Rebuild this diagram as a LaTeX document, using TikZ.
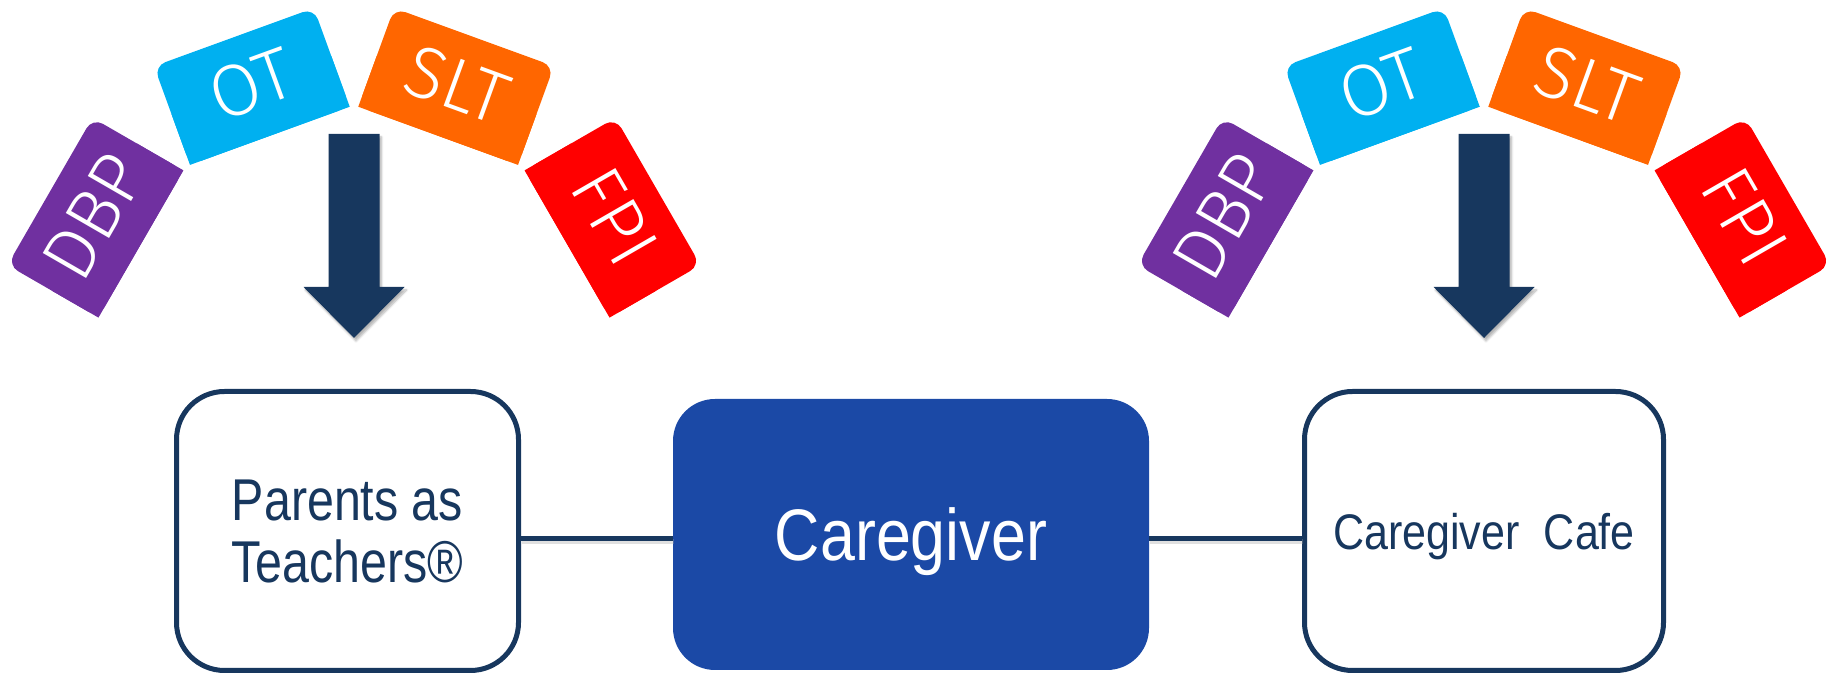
\documentclass[tikz,border=0pt]{standalone}
\usepackage{fontspec}
\setmainfont{Liberation Sans}
\newfontfamily\patfont[FakeStretch=0.82]{Liberation Sans}
\newfontfamily\cgfont[FakeStretch=0.86]{Liberation Sans}
\newfontfamily\tilefont{Fira Sans Light}
\usetikzlibrary{calc,shadows.blur}
\definecolor{navy}{HTML}{17375E}
\definecolor{cgblue}{HTML}{1B49A6}
\definecolor{dbpc}{HTML}{7030A0}
\definecolor{otc}{HTML}{00B0F0}
\definecolor{sltc}{HTML}{FF6600}
\definecolor{fpic}{HTML}{FF0000}
\begin{document}
\begin{tikzpicture}[x=1pt,y=1pt,
  outbox/.style={draw=navy, line width=5pt, fill=white, rounded corners=48pt,
    minimum height=279pt, inner sep=0pt, align=center, text=navy, text depth=0pt},
  cgboxstyle/.style={fill=cgblue, rounded corners=42pt, minimum width=476pt,
    minimum height=271pt, inner sep=0pt, text=white, text depth=0pt,
    font={\cgfont\fontsize{73}{76}\selectfont}},
  tiletext/.style={text=white, inner sep=0pt, text depth=0pt,
    font={\tilefont\fontsize{73}{76}\selectfont}},
  downarrow/.style={fill=navy, blur shadow={shadow xshift=2pt, shadow yshift=-3pt,
    shadow blur steps=6, shadow opacity=30}},
  conn/.style={draw=navy, line width=5pt,
    preaction={draw=black!35, opacity=0.35, line width=5pt, transform canvas={shift={(1pt,-3pt)}}}}
]
\useasboundingbox (0,0) rectangle (1839,674);

% fans of tiles
\foreach \cx/\side in {354/L, 1484/R}{
  \foreach \ang/\col/\lab/\nm in {60/dbpc/DBP/dbp, 20/otc/OT/ot, -20/sltc/SLT/slt, -60/fpic/FPI/fpi}{
    \begin{scope}[shift={(\cx,307)}, rotate=\ang]
      \fill[\col, rounded corners=12pt] (-85,246) rectangle (85,351);
      \fill[\col] (-85,246) rectangle (85,300);
      \node[tiletext, rotate=\ang] (\side\nm) at (0,301) {\lab};
    \end{scope}
  }
  % arrow
  \begin{scope}[shift={(\cx,0)}]
    \fill[downarrow] (-25.5,540) -- (25.5,540) -- (25.5,387) -- (50.5,387)
      -- (0,336) -- (-50.5,387) -- (-25.5,387) -- cycle;
  \end{scope}
}

% boxes
\node[outbox, minimum width=342pt, font={\patfont\fontsize{59}{62}\selectfont}]
  (pat) at (347.5,143) {Parents as\\Teachers®};
\node[cgboxstyle] (cg) at (911,139.5) {Caregiver};
\node[outbox, minimum width=359pt, font={\cgfont\fontsize{50}{54}\selectfont}]
  (cafe) at (1484,143) {Caregiver\hspace{0.25em} Cafe};

% connectors
\coordinate (ly) at (0,135);
\draw[conn] (pat.east |- ly) -- (cg.west |- ly);
\draw[conn] (cg.east |- ly) -- (cafe.west |- ly);
\end{tikzpicture}
\end{document}
